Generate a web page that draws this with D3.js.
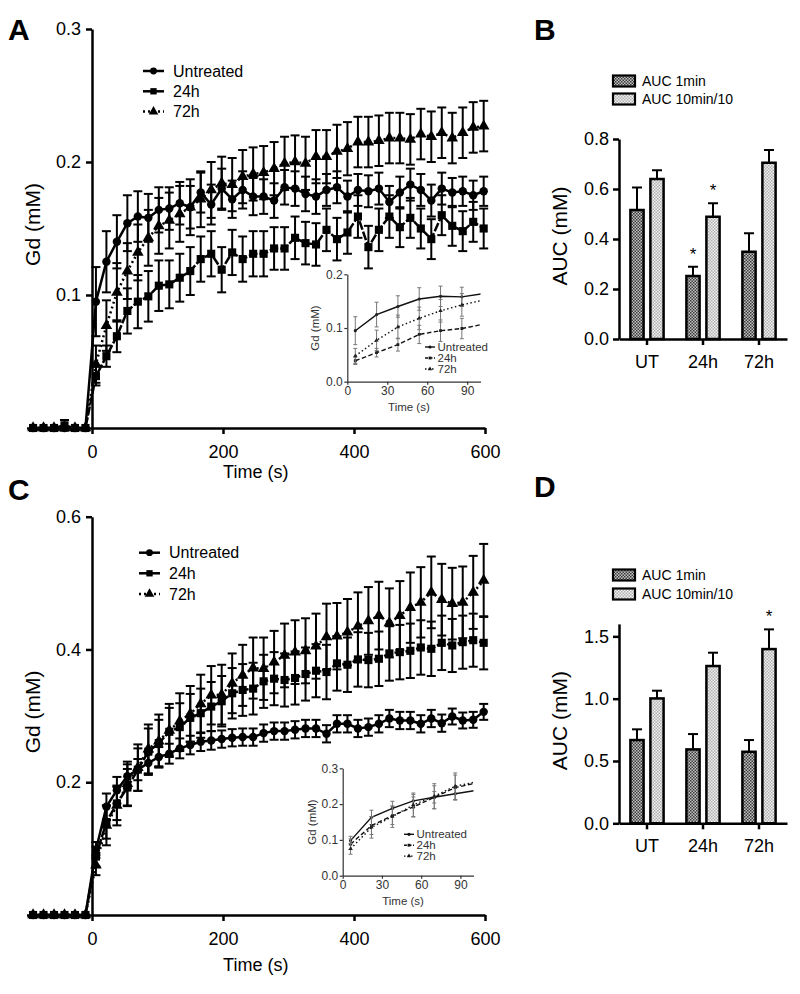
<!DOCTYPE html>
<html><head><meta charset="utf-8">
<script src="https://cdn.jsdelivr.net/npm/d3@7"></script>
<style>body{margin:0;background:#fff} svg{display:block}</style>
</head><body>
<svg id="chart" width="800" height="994"></svg>
<script>
// ---------------- DATA ----------------
const timeSec = [-90,-74,-58,-42,-26,-10,6,22,38,54,70,86,102,118,134,150,166,182,198,214,230,246,262,278,294,310,326,342,358,374,390,406,422,438,454,470,486,502,518,534,550,566,582,598];
const seriesNames = ["Untreated","24h","72h"];

// Panel A (Gd, mM)
const gdA_Untreated = [0,0,0,0,0,0, 0.095,0.125,0.140,0.154,0.159,0.158, 0.164,0.165,0.169,0.166,0.177,0.168,0.180,0.172, 0.179,0.174,0.174,0.171,0.181,0.180,0.176,0.174, 0.179,0.181,0.174,0.179,0.178,0.180,0.170,0.177, 0.183,0.179,0.171,0.180,0.177,0.178,0.175,0.178];
const gdA_UntreatedErr = [0,0,0,0,0,0, 0.026,0.023,0.020,0.021,0.019,0.018, 0.017,0.016,0.016,0.016,0.015,0.015,0.015,0.014, 0.014,0.014,0.013,0.013,0.013,0.013,0.013,0.013, 0.012,0.012,0.012,0.012,0.012,0.012,0.012,0.012, 0.012,0.012,0.012,0.012,0.011,0.011,0.011,0.011];
const gdA_24h = [0,0,0,0.002,0,0, 0.039,0.054,0.069,0.088,0.095,0.099, 0.107,0.108,0.113,0.118,0.127,0.131,0.119,0.132, 0.127,0.131,0.131,0.135,0.135,0.143,0.139,0.138, 0.149,0.142,0.147,0.159,0.136,0.149,0.159,0.151, 0.158,0.150,0.142,0.160,0.152,0.148,0.155,0.150];
const gdA_24hErr = [0,0,0,0.004,0,0, 0.007,0.008,0.012,0.017,0.020,0.019, 0.019,0.018,0.018,0.018,0.017,0.017,0.017,0.017, 0.017,0.017,0.017,0.016,0.016,0.016,0.016,0.016, 0.016,0.016,0.016,0.016,0.016,0.016,0.016,0.015, 0.015,0.015,0.015,0.015,0.015,0.015,0.015,0.015];
const gdA_72h = [0,0,0,0,0,0, 0.048,0.077,0.102,0.118,0.132,0.143, 0.152,0.156,0.161,0.166,0.172,0.179,0.184,0.183, 0.189,0.191,0.192,0.195,0.199,0.200,0.199,0.204, 0.204,0.208,0.210,0.215,0.215,0.216,0.218,0.218, 0.217,0.221,0.219,0.222,0.218,0.222,0.226,0.227];
const gdA_72hErr = [0,0,0,0,0,0, 0.014,0.019,0.022,0.021,0.021,0.021, 0.021,0.021,0.021,0.021,0.021,0.021,0.020,0.020, 0.020,0.020,0.020,0.020,0.020,0.020,0.020,0.020, 0.020,0.020,0.020,0.019,0.019,0.019,0.019,0.019, 0.019,0.019,0.019,0.019,0.019,0.019,0.019,0.019];

// Panel C (Gd, mM)
const gdC_Untreated = [0,0,0,0,0,0, 0.098,0.163,0.188,0.209,0.219,0.229, 0.238,0.243,0.251,0.256,0.261,0.263,0.265,0.267, 0.268,0.268,0.274,0.277,0.277,0.279,0.281,0.281, 0.273,0.288,0.288,0.281,0.283,0.288,0.296,0.293, 0.293,0.288,0.296,0.289,0.299,0.293,0.294,0.306];
const gdC_UntreatedErr = [0,0,0,0,0,0, 0.012,0.020,0.020,0.018,0.016,0.016, 0.015,0.015,0.015,0.014,0.014,0.014,0.013,0.013, 0.013,0.013,0.013,0.013,0.013,0.013,0.013,0.013, 0.013,0.013,0.013,0.013,0.013,0.013,0.013,0.013, 0.013,0.013,0.013,0.013,0.012,0.012,0.012,0.012];
const gdC_24h = [0,0,0,0,0,0, 0.088,0.140,0.168,0.192,0.219,0.246, 0.259,0.276,0.283,0.297,0.304,0.314,0.322,0.334, 0.339,0.341,0.352,0.356,0.354,0.357,0.363,0.368, 0.366,0.379,0.377,0.385,0.384,0.386,0.394,0.396, 0.398,0.403,0.401,0.410,0.406,0.411,0.414,0.410];
const gdC_24hErr = [0,0,0,0,0,0, 0.015,0.025,0.025,0.028,0.032,0.035, 0.035,0.036,0.036,0.036,0.037,0.037,0.038,0.038, 0.039,0.039,0.040,0.040,0.040,0.040,0.040,0.040, 0.041,0.041,0.041,0.041,0.041,0.041,0.041,0.041, 0.041,0.041,0.041,0.041,0.040,0.040,0.040,0.040];
const gdC_72h = [0,0,0,0,0,0, 0.075,0.135,0.165,0.198,0.222,0.250, 0.262,0.278,0.292,0.303,0.318,0.331,0.332,0.349, 0.361,0.372,0.371,0.381,0.391,0.396,0.398,0.405, 0.419,0.420,0.426,0.435,0.443,0.451,0.440,0.451, 0.463,0.471,0.486,0.475,0.469,0.471,0.486,0.504];
const gdC_72hErr = [0,0,0,0,0,0, 0.015,0.030,0.030,0.033,0.035,0.037, 0.040,0.040,0.042,0.042,0.044,0.044,0.045,0.045, 0.046,0.046,0.047,0.047,0.048,0.048,0.049,0.049, 0.050,0.050,0.050,0.051,0.051,0.051,0.052,0.052, 0.053,0.053,0.054,0.054,0.054,0.054,0.055,0.055];

// Tick labels
const mainXTicks = [0,200,400,600];
const insetXTicks = [0,30,60,90];
const yTicksA = [0.1,0.2,0.3];
const yTicksC = [0.2,0.4,0.6];
const insetYTicksA = [0.0,0.1,0.2];
const insetYTicksC = [0.0,0.1,0.2,0.3];

// Panels B and D (AUC, mM)
const aucCategories = ["UT","24h","72h"];
const aucSeries = ["AUC 1min","AUC 10min/10"];
const aucB_1min = [0.516,0.252,0.349];
const aucB_1minErr = [0.090,0.037,0.074];
const aucB_10min = [0.640,0.489,0.705];
const aucB_10minErr = [0.035,0.054,0.051];
const aucD_1min = [0.668,0.593,0.574];
const aucD_1minErr = [0.086,0.123,0.094];
const aucD_10min = [1.002,1.262,1.398];
const aucD_10minErr = [0.062,0.107,0.158];
const yTicksB = [0.0,0.2,0.4,0.6,0.8];
const yTicksD = [0.0,0.5,1.0,1.5];
const starsB = [{cat:"24h", series:"AUC 1min"},{cat:"24h", series:"AUC 10min/10"}];
const starsD = [{cat:"72h", series:"AUC 10min/10"}];

// ---------------- DRAWING ----------------
const FONT = '"Liberation Sans", Arial, Helvetica, sans-serif';
const svg = d3.select("#chart").style("font-family", FONT);

const defs = svg.append("defs");
function makePattern(id, bg, fg) {
  const p = defs.append("pattern").attr("id", id).attr("width", 3).attr("height", 3)
    .attr("patternUnits", "userSpaceOnUse");
  p.append("rect").attr("width", 3).attr("height", 3).attr("fill", bg);
  p.append("rect").attr("width", 1.5).attr("height", 1.5).attr("fill", fg);
  p.append("rect").attr("x", 1.5).attr("y", 1.5).attr("width", 1.5).attr("height", 1.5).attr("fill", fg);
}
makePattern("patDark", "#c2c2c2", "#3a3a3a");
makePattern("patLight", "#f0f0f0", "#b0b0b0");
const barFills = {"AUC 1min": "url(#patDark)", "AUC 10min/10": "url(#patLight)"};

const symTypes = [d3.symbolCircle, d3.symbolSquare, d3.symbolTriangle];
const mainSymSize = [56, 66, 58];
const mainDash = [null, "9,2", "2,3"];
const insetDash = [null, "4.5,2.5", "1.5,2.5"];

function panelLabel(t, x, y) {
  svg.append("text").attr("x", x).attr("y", y).text(t)
    .attr("font-size", 30).attr("font-weight", "bold").attr("fill", "#000");
}

function rotText(g, t, x, y, size, color) {
  g.append("text").attr("transform", `translate(${x},${y}) rotate(-90)`)
    .attr("text-anchor", "middle").attr("font-size", size).attr("fill", color || "#000").text(t);
}

function styleAxis(ax, w, fs, color) {
  ax.select(".domain").attr("stroke", color).attr("stroke-width", w);
  ax.selectAll(".tick line").attr("stroke", color).attr("stroke-width", w);
  ax.selectAll(".tick text").attr("font-size", fs).attr("fill", color).attr("font-family", FONT);
}

function drawTimeCourse(cfg) {
  const g = svg.append("g");
  const x = d3.scaleLinear().domain([-100, 600]).range(cfg.xRange);
  const y = d3.scaleLinear().domain(cfg.yDomain).range(cfg.yRange);
  const series = cfg.series.map((s, i) => ({
    name: seriesNames[i], idx: i,
    pts: timeSec.map((t, j) => ({t, v: s.mean[j], e: s.err[j]}))
  }));

  // error bars
  series.forEach(s => {
    const eg = g.append("g").attr("stroke", "#000").attr("stroke-width", 2);
    s.pts.filter(p => p.e > 0).forEach(p => {
      const xx = x(p.t);
      eg.append("line").attr("x1", xx).attr("x2", xx).attr("y1", y(p.v - p.e)).attr("y2", y(p.v + p.e));
      [p.v - p.e, p.v + p.e].forEach(val => eg.append("line")
        .attr("x1", xx - 4.5).attr("x2", xx + 4.5).attr("y1", y(val)).attr("y2", y(val)));
    });
  });
  // lines
  const line = d3.line().x(p => x(p.t)).y(p => y(p.v));
  series.forEach(s => {
    g.append("path").datum(s.pts).attr("d", line).attr("fill", "none")
      .attr("stroke", "#000").attr("stroke-width", 2.5)
      .attr("stroke-dasharray", mainDash[s.idx]);
  });
  // markers
  series.forEach(s => {
    g.append("g").selectAll("path").data(s.pts).join("path")
      .attr("transform", p => `translate(${x(p.t)},${y(p.v)})`)
      .attr("d", d3.symbol().type(symTypes[s.idx]).size(mainSymSize[s.idx]))
      .attr("fill", "#000");
  });

  // axes
  const yAx = g.append("g").attr("transform", `translate(${x(0)},0)`)
    .call(d3.axisLeft(y).tickValues(cfg.yTicks).tickFormat(d3.format(".1f")).tickSize(6).tickSizeOuter(0).tickPadding(5));
  styleAxis(yAx, 2.5, 18, "#000");
  const xAx = g.append("g").attr("transform", `translate(0,${y(0)})`)
    .call(d3.axisBottom(x).tickValues(mainXTicks).tickSize(6).tickSizeOuter(0).tickPadding(11));
  styleAxis(xAx, 2.5, 18, "#000");
  g.append("text").attr("x", (cfg.xRange[0] + cfg.xRange[1]) / 2).attr("y", cfg.xTitleY)
    .attr("text-anchor", "middle").attr("font-size", 18).text("Time (s)");
  rotText(g, "Gd (mM)", cfg.yTitleX, (cfg.yRange[0] + cfg.yRange[1]) / 2 - 4, 21);

  // legend
  const lg = g.append("g");
  series.forEach((s, i) => {
    const yy = cfg.legend.y + i * cfg.legend.dy;
    lg.append("line").attr("x1", cfg.legend.x).attr("x2", cfg.legend.x + 21).attr("y1", yy).attr("y2", yy)
      .attr("stroke", "#000").attr("stroke-width", 2.5).attr("stroke-dasharray", i === 2 ? "2,3" : null);
    lg.append("path").attr("transform", `translate(${cfg.legend.x + 10.5},${yy})`)
      .attr("d", d3.symbol().type(symTypes[i]).size(i === 0 ? 36 : 40)).attr("fill", "#000");
    lg.append("text").attr("x", cfg.legend.x + 30).attr("y", yy + 5.7).attr("font-size", 16).text(s.name);
  });

  // inset
  const ic = cfg.inset;
  const ix = d3.scaleLinear().domain([0, 100]).range(ic.xRange);
  const iy = d3.scaleLinear().domain(ic.yDomain).range(ic.yRange);
  const ig = g.append("g");
  const clipId = cfg.id + "clip";
  defs.append("clipPath").attr("id", clipId).append("rect")
    .attr("x", ic.xRange[0]).attr("y", ic.yRange[1] - 5)
    .attr("width", ic.xRange[1] - ic.xRange[0]).attr("height", ic.yRange[0] - ic.yRange[1] + 5);
  const inner = ig.append("g").attr("clip-path", `url(#${clipId})`);
  series.forEach(s => {
    const lp = s.pts.filter(p => p.t >= 0 && p.t <= 110);
    const mp = lp.filter(p => p.t <= 100);
    const eg = inner.append("g").attr("stroke", "#777").attr("stroke-width", 1);
    mp.forEach(p => {
      const xx = ix(p.t);
      eg.append("line").attr("x1", xx).attr("x2", xx).attr("y1", iy(p.v - p.e)).attr("y2", iy(p.v + p.e));
      [p.v - p.e, p.v + p.e].forEach(val => eg.append("line")
        .attr("x1", xx - 2).attr("x2", xx + 2).attr("y1", iy(val)).attr("y2", iy(val)));
    });
    inner.append("path").datum(lp)
      .attr("d", d3.line().x(p => ix(p.t)).y(p => iy(p.v)))
      .attr("fill", "none").attr("stroke", "#111").attr("stroke-width", 1.4)
      .attr("stroke-dasharray", insetDash[s.idx]);
    inner.append("g").selectAll("path").data(mp).join("path")
      .attr("transform", p => `translate(${ix(p.t)},${iy(p.v)})`)
      .attr("d", d3.symbol().type(symTypes[s.idx]).size(8)).attr("fill", "#222");
  });
  const iyAx = ig.append("g").attr("transform", `translate(${ix(0)},0)`)
    .call(d3.axisLeft(iy).tickValues(ic.yTicks).tickFormat(d3.format(".1f")).tickSize(3).tickSizeOuter(0).tickPadding(1.5));
  styleAxis(iyAx, 1.2, 12, "#333");
  const ixAx = ig.append("g").attr("transform", `translate(0,${iy(0)})`)
    .call(d3.axisBottom(ix).tickValues(insetXTicks).tickSize(3).tickSizeOuter(0).tickPadding(2));
  styleAxis(ixAx, 1.2, 12, "#333");
  ig.append("text").attr("x", (ic.xRange[0] + ic.xRange[1]) / 2 - 5).attr("y", ic.xTitleY)
    .attr("text-anchor", "middle").attr("font-size", 11.5).attr("fill", "#333").text("Time (s)");
  rotText(ig, "Gd (mM)", ic.yTitleX, (ic.yRange[0] + ic.yRange[1]) / 2, 11.5, "#333");
  series.forEach((s, i) => {
    const yy = ic.legend.y + i * ic.legend.dy;
    ig.append("line").attr("x1", ic.legend.x).attr("x2", ic.legend.x + 10).attr("y1", yy).attr("y2", yy)
      .attr("stroke", "#111").attr("stroke-width", 1.4).attr("stroke-dasharray", i === 0 ? null : (i === 1 ? "3,1.5" : "1.5,2"));
    ig.append("path").attr("transform", `translate(${ic.legend.x + 5},${yy})`)
      .attr("d", d3.symbol().type(symTypes[i]).size(8)).attr("fill", "#111");
    ig.append("text").attr("x", ic.legend.x + 12.5).attr("y", yy + 4).attr("font-size", 11.5).attr("fill", "#333").text(s.name);
  });
}

function drawBars(cfg) {
  const g = svg.append("g");
  const x = d3.scaleBand().domain(aucCategories).range([619, 787]);
  const xi = d3.scaleBand().domain(aucSeries).range([-16.6, 16.6]).paddingInner(0.34);
  const y = d3.scaleLinear().domain(cfg.yDomain).range(cfg.yRange);
  const vals = {"AUC 1min": cfg.v1, "AUC 10min/10": cfg.v10};
  const errs = {"AUC 1min": cfg.e1, "AUC 10min/10": cfg.e10};
  const data = [];
  aucCategories.forEach((c, ci) => aucSeries.forEach(s => data.push({c, s, v: vals[s][ci], e: errs[s][ci]})));
  const cx = d => x(d.c) + x.bandwidth() / 2 + xi(d.s) + xi.bandwidth() / 2;

  // error bars
  data.forEach(d => {
    g.append("line").attr("x1", cx(d)).attr("x2", cx(d)).attr("y1", y(d.v)).attr("y2", y(d.v + d.e))
      .attr("stroke", "#000").attr("stroke-width", 2);
    g.append("line").attr("x1", cx(d) - 5).attr("x2", cx(d) + 5).attr("y1", y(d.v + d.e)).attr("y2", y(d.v + d.e))
      .attr("stroke", "#000").attr("stroke-width", 2);
  });
  g.selectAll("rect.bar").data(data).join("rect").attr("class", "bar")
    .attr("x", d => x(d.c) + x.bandwidth() / 2 + xi(d.s)).attr("width", xi.bandwidth())
    .attr("y", d => y(d.v)).attr("height", d => y(0) - y(d.v))
    .attr("fill", d => barFills[d.s]).attr("stroke", "#000").attr("stroke-width", 2.5);

  // stars
  cfg.stars.forEach(st => {
    const d = data.find(dd => dd.c === st.cat && dd.s === st.series);
    g.append("text").attr("x", cx(d)).attr("y", y(d.v + d.e) - 7).attr("text-anchor", "middle")
      .attr("font-size", 17).text("*");
  });

  const yAx = g.append("g").attr("transform", `translate(619,0)`)
    .call(d3.axisLeft(y).tickValues(cfg.yTicks).tickFormat(d3.format(".1f")).tickSize(6).tickSizeOuter(0).tickPadding(4));
  styleAxis(yAx, 2.5, 18, "#000");
  const xAx = g.append("g").attr("transform", `translate(0,${y(0)})`)
    .call(d3.axisBottom(x).tickSize(6).tickSizeOuter(0).tickPadding(10));
  styleAxis(xAx, 2.5, 18, "#000");
  rotText(g, "AUC (mM)", 567, (cfg.yRange[0] + cfg.yRange[1]) / 2 - 3, 21);

  // legend
  aucSeries.forEach((s, i) => {
    const yy = cfg.legendY + i * cfg.legendDy;
    g.append("rect").attr("x", 613).attr("y", yy - 5.5).attr("width", 22).attr("height", 11)
      .attr("fill", barFills[s]).attr("stroke", "#000").attr("stroke-width", 2.2);
    g.append("text").attr("x", 642).attr("y", yy + 5).attr("font-size", 14).text(s);
  });
}

panelLabel("A", 8, 40);
panelLabel("B", 534, 40);
panelLabel("C", 8, 500);
panelLabel("D", 534, 497);

drawTimeCourse({
  id: "A", xRange: [26.5, 485], yDomain: [0, 0.3], yRange: [428, 29], yTicks: yTicksA,
  xTitleY: 478, yTitleX: 40,
  series: [{mean: gdA_Untreated, err: gdA_UntreatedErr}, {mean: gdA_24h, err: gdA_24hErr}, {mean: gdA_72h, err: gdA_72hErr}],
  legend: {x: 143, y: 71, dy: 20.3},
  inset: {xRange: [347.3, 480.5], yDomain: [0, 0.2], yRange: [381.7, 274.3], yTicks: insetYTicksA,
          xTitleY: 411, yTitleX: 319, legend: {x: 425, y: 347, dy: 11}}
});
drawTimeCourse({
  id: "C", xRange: [26.5, 485], yDomain: [0, 0.6], yRange: [915, 516.7], yTicks: yTicksC,
  xTitleY: 971, yTitleX: 40,
  series: [{mean: gdC_Untreated, err: gdC_UntreatedErr}, {mean: gdC_24h, err: gdC_24hErr}, {mean: gdC_72h, err: gdC_72hErr}],
  legend: {x: 139, y: 552.7, dy: 20.6},
  inset: {xRange: [342.7, 473.5], yDomain: [0, 0.3], yRange: [875.7, 768.3], yTicks: insetYTicksC,
          xTitleY: 905, yTitleX: 316, legend: {x: 404, y: 834.3, dy: 10.9}}
});
drawBars({yDomain: [0, 0.8], yRange: [339, 139], yTicks: yTicksB,
  v1: aucB_1min, e1: aucB_1minErr, v10: aucB_10min, e10: aucB_10minErr, stars: starsB,
  legendY: 81, legendDy: 18});
drawBars({yDomain: [0, 1.6], yRange: [823.3, 623.9], yTicks: yTicksD,
  v1: aucD_1min, e1: aucD_1minErr, v10: aucD_10min, e10: aucD_10minErr, stars: starsD,
  legendY: 575, legendDy: 19});
</script>
</body></html>
